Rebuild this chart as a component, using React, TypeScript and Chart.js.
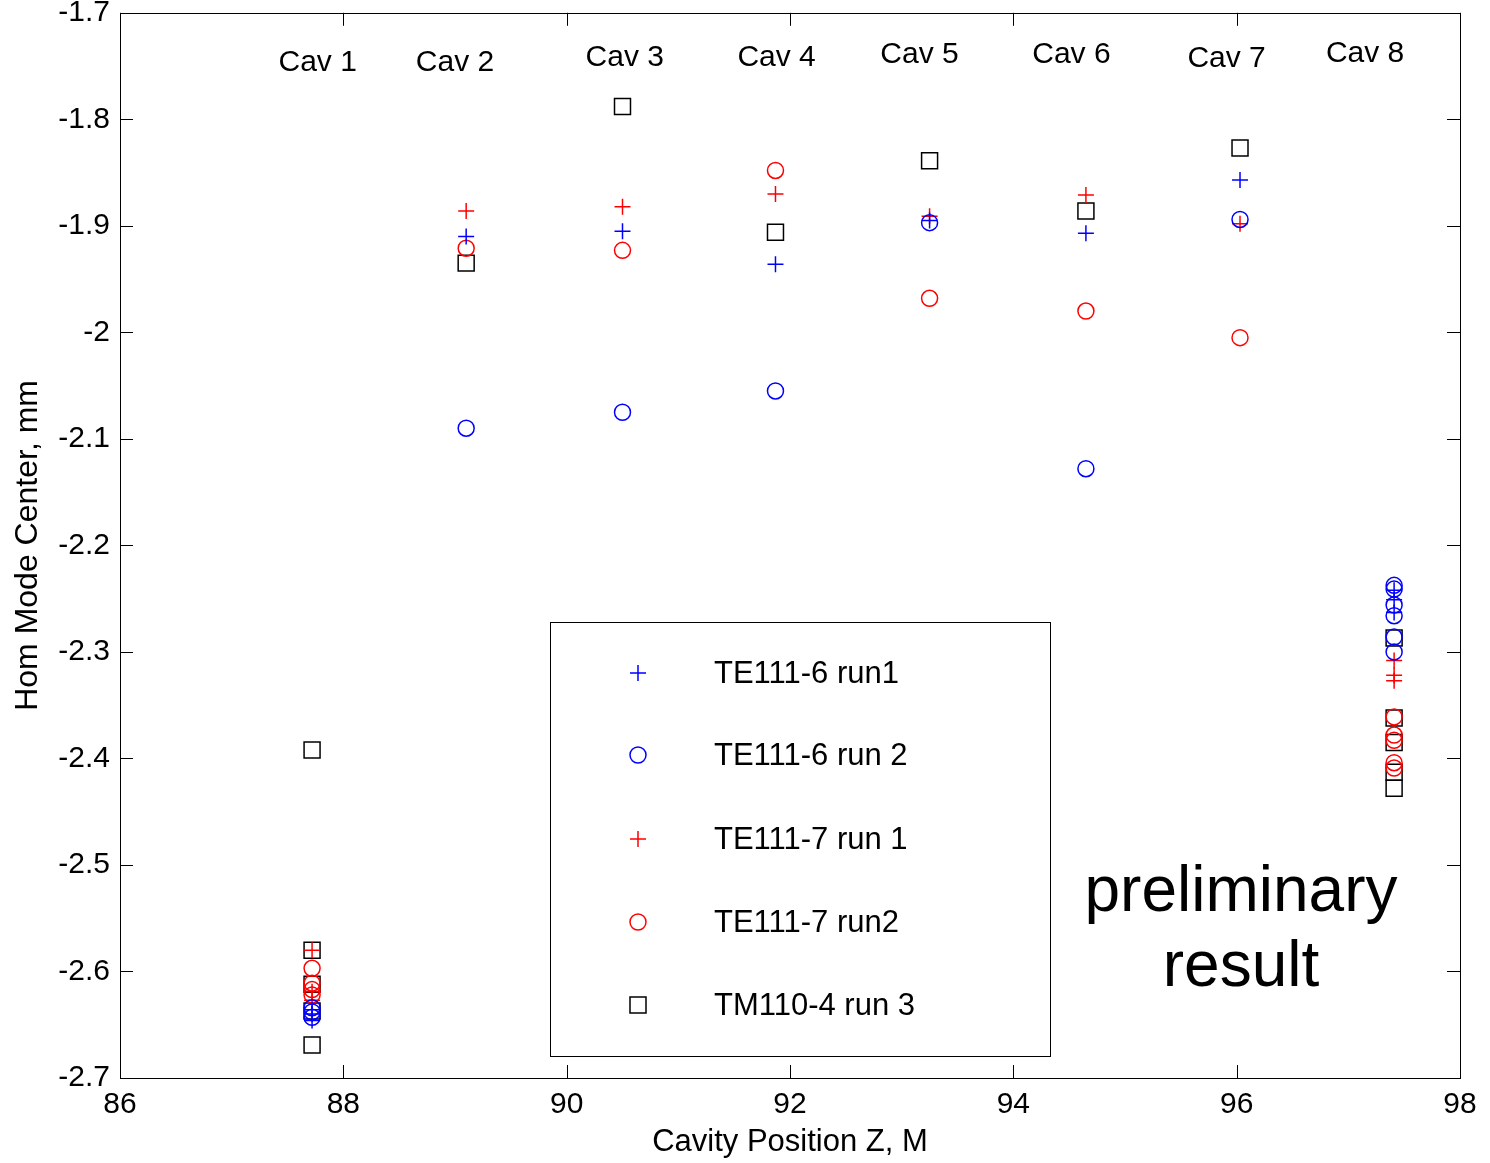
import React, { useEffect, useRef } from "react";
import { Chart, registerables } from "chart.js";

Chart.register(...registerables);

// Cavity positions along Z (m)
const cavityZ = [87.72, 89.1, 90.5, 91.87, 93.25, 94.65, 96.03, 97.41];
const cavityNames = ["Cav 1", "Cav 2", "Cav 3", "Cav 4", "Cav 5", "Cav 6", "Cav 7", "Cav 8"];
// cavity label anchor positions (data coordinates)
const cavityLabelZ = [87.77, 89.0, 90.52, 91.88, 93.16, 94.52, 95.91, 97.15];
const cavityLabelY = [-1.747, -1.747, -1.742, -1.742, -1.739, -1.739, -1.743, -1.738];

const xTicks = [86, 88, 90, 92, 94, 96, 98];
const yTicks = [-2.7, -2.6, -2.5, -2.4, -2.3, -2.2, -2.1, -2.0, -1.9, -1.8, -1.7];

// Series: values at Cav 1 (repeated), Cav 2..7, Cav 8 (repeated)
const te1116run1Cav1 = [-2.636, -2.64, -2.646];
const te1116run1Mid = [-1.91, -1.905, -1.936, -1.895, -1.907, -1.857];
const te1116run1Cav8 = [-2.242, -2.251, -2.263];

const te1116run2Cav1 = [-2.634, -2.638, -2.643];
const te1116run2Mid = [-2.09, -2.075, -2.055, -1.897, -2.128, -1.894];
const te1116run2Cav8 = [-2.2375, -2.241, -2.256, -2.266, -2.286, -2.3];

const te1117run1Cav1 = [-2.58, -2.619, -2.627];
const te1117run1Mid = [-1.886, -1.882, -1.87, -1.891, -1.871, -1.898];
const te1117run1Cav8 = [-2.308, -2.322, -2.327];

const te1117run2Cav1 = [-2.597, -2.611, -2.617, -2.622];
const te1117run2Mid = [-1.921, -1.923, -1.848, -1.968, -1.98, -2.005];
const te1117run2Cav8 = [-2.361, -2.378, -2.383, -2.404, -2.409];

const tm1104run3Cav1 = [-2.392, -2.58, -2.612, -2.637, -2.669];
const tm1104run3Mid = [-1.935, -1.788, -1.906, -1.839, -1.886, -1.827];
const tm1104run3Cav8 = [-2.287, -2.362, -2.385, -2.413, -2.428];

const seriesNames = ["TE111-6 run1", "TE111-6 run 2", "TE111-7 run 1", "TE111-7 run2", "TM110-4 run 3"];
const seriesColors = ["#0000ff", "#0000ff", "#ff0000", "#ff0000", "#000000"];
const seriesMarkers = ["cross", "circle", "cross", "circle", "rect"];

function buildPoints(cav1: number[], mid: number[], cav8: number[]) {
  return [
    ...cav1.map((y) => ({ x: cavityZ[0], y })),
    ...mid.map((y, i) => ({ x: cavityZ[i + 1], y })),
    ...cav8.map((y) => ({ x: cavityZ[7], y })),
  ];
}

const FONT = "Arial, 'Liberation Sans', sans-serif";

function drawMarker(ctx: CanvasRenderingContext2D, kind: string, x: number, y: number, color: string) {
  ctx.save();
  ctx.strokeStyle = color;
  ctx.lineWidth = 1.5;
  ctx.beginPath();
  if (kind === "cross") {
    ctx.moveTo(x - 8, y);
    ctx.lineTo(x + 8, y);
    ctx.moveTo(x, y - 8);
    ctx.lineTo(x, y + 8);
  } else if (kind === "circle") {
    ctx.arc(x, y, 8, 0, Math.PI * 2);
  } else {
    ctx.rect(x - 8, y - 8, 16, 16);
  }
  ctx.stroke();
  ctx.restore();
}

const decorPlugin = {
  id: "decor",
  beforeDraw(chart: any) {
    const ctx = chart.ctx;
    ctx.save();
    ctx.fillStyle = "#ffffff";
    ctx.fillRect(0, 0, chart.width, chart.height);
    ctx.restore();
  },
  afterDraw(chart: any) {
    const ctx: CanvasRenderingContext2D = chart.ctx;
    const { left, right, top, bottom } = chart.chartArea;
    const xs = chart.scales.x;
    const ys = chart.scales.y;
    ctx.save();
    // frame
    ctx.strokeStyle = "#000";
    ctx.lineWidth = 1;
    ctx.strokeRect(Math.round(left) + 0.5, Math.round(top) + 0.5, Math.round(right - left), Math.round(bottom - top));
    // inner ticks
    ctx.beginPath();
    const tl = 13;
    xTicks.forEach((v) => {
      const px = Math.round(xs.getPixelForValue(v)) + 0.5;
      ctx.moveTo(px, bottom);
      ctx.lineTo(px, bottom - tl);
      ctx.moveTo(px, top);
      ctx.lineTo(px, top + tl);
    });
    yTicks.forEach((v) => {
      const py = Math.round(ys.getPixelForValue(v)) + 0.5;
      ctx.moveTo(left, py);
      ctx.lineTo(left + tl, py);
      ctx.moveTo(right, py);
      ctx.lineTo(right - tl, py);
    });
    ctx.stroke();

    // cavity labels
    ctx.fillStyle = "#000";
    ctx.font = `30px ${FONT}`;
    ctx.textAlign = "center";
    ctx.textBaseline = "middle";
    cavityNames.forEach((name, i) => {
      ctx.fillText(name, xs.getPixelForValue(cavityLabelZ[i]), ys.getPixelForValue(cavityLabelY[i]));
    });

    // axis titles
    ctx.font = `31px ${FONT}`;
    ctx.fillText("Cavity Position Z, M", (left + right) / 2, 1142);
    ctx.save();
    ctx.translate(28, (top + bottom) / 2);
    ctx.rotate(-Math.PI / 2);
    ctx.font = `32px ${FONT}`;
    ctx.fillText("Hom Mode Center, mm", 0, 0);
    ctx.restore();

    // legend
    ctx.lineWidth = 1;
    ctx.strokeStyle = "#000";
    ctx.fillStyle = "#fff";
    ctx.fillRect(550, 622, 500, 434);
    ctx.strokeRect(550.5, 622.5, 500, 434);
    const rows = [673, 755, 839, 922, 1005];
    ctx.font = `31px ${FONT}`;
    ctx.textAlign = "left";
    ctx.fillStyle = "#000";
    seriesNames.forEach((name, i) => {
      drawMarker(ctx, seriesMarkers[i], 638, rows[i], seriesColors[i]);
      ctx.fillStyle = "#000";
      ctx.fillText(name, 714, rows[i] + 1);
    });

    // preliminary result
    ctx.font = `64px ${FONT}`;
    ctx.textAlign = "center";
    ctx.fillText("preliminary", 1241, 893);
    ctx.fillText("result", 1241, 968);
    ctx.restore();
  },
};

export default function App() {
  const ref = useRef<HTMLCanvasElement | null>(null);
  useEffect(() => {
    if (!ref.current) return;
    const mk = (i: number, pts: { x: number; y: number }[]) => ({
      label: seriesNames[i],
      data: pts,
      showLine: false,
      pointStyle: seriesMarkers[i] as any,
      pointRadius: seriesMarkers[i] === "rect" ? 11.3 : 8,
      pointHoverRadius: seriesMarkers[i] === "rect" ? 11.3 : 8,
      pointBorderWidth: 1.5,
      pointBorderColor: seriesColors[i],
      pointBackgroundColor: "rgba(0,0,0,0)",
      borderColor: seriesColors[i],
      backgroundColor: "rgba(0,0,0,0)",
    });
    const chart = new Chart(ref.current, {
      type: "scatter",
      data: {
        datasets: [
          mk(0, buildPoints(te1116run1Cav1, te1116run1Mid, te1116run1Cav8)),
          mk(1, buildPoints(te1116run2Cav1, te1116run2Mid, te1116run2Cav8)),
          mk(2, buildPoints(te1117run1Cav1, te1117run1Mid, te1117run1Cav8)),
          mk(3, buildPoints(te1117run2Cav1, te1117run2Mid, te1117run2Cav8)),
          mk(4, buildPoints(tm1104run3Cav1, tm1104run3Mid, tm1104run3Cav8)),
        ],
      },
      options: {
        responsive: false,
        animation: false,
        devicePixelRatio: 1,
        layout: { padding: { left: 0, top: 12, right: 30, bottom: 0 } },
        plugins: { legend: { display: false }, tooltip: { enabled: false } },
        scales: {
          x: {
            type: "linear",
            min: 86,
            max: 98,
            afterBuildTicks: (s: any) => {
              s.ticks = xTicks.map((v) => ({ value: v }));
            },
            afterFit: (s: any) => {
              s.height = 85;
              s.paddingLeft = 0;
              s.paddingRight = 0;
            },
            grid: { display: false, drawTicks: false },
            border: { display: false },
            ticks: {
              padding: 9,
              color: "#000",
              font: { family: FONT, size: 30 },
              maxRotation: 0,
              autoSkip: false,
              callback: (v: any) => String(Number(Number(v).toFixed(1))),
            },
          },
          y: {
            type: "linear",
            min: -2.7,
            max: -1.7,
            afterBuildTicks: (s: any) => {
              s.ticks = yTicks.map((v) => ({ value: v }));
            },
            afterFit: (s: any) => {
              s.width = 120;
              s.paddingTop = 0;
              s.paddingBottom = 0;
            },
            grid: { display: false, drawTicks: false },
            border: { display: false },
            ticks: {
              padding: 10,
              color: "#000",
              font: { family: FONT, size: 30 },
              autoSkip: false,
              callback: (v: any) => String(Number(Number(v).toFixed(1))),
            },
          },
        },
      },
      plugins: [decorPlugin],
    });
    return () => chart.destroy();
  }, []);
  return (
    <div style={{ position: "absolute", left: 0, top: 0, width: 1490, height: 1163, background: "#fff" }}>
      <canvas ref={ref} width={1490} height={1163} style={{ display: "block" }} />
    </div>
  );
}
